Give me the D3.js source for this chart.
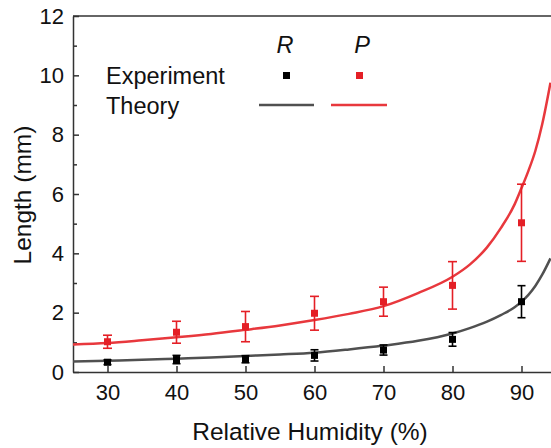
<!DOCTYPE html>
<html>
<head>
<meta charset="utf-8">
<script src="https://cdn.jsdelivr.net/npm/d3@7"></script>
<style>
  body { margin: 0; background: #fff; }
  svg { display: block; font-family: "Liberation Sans", Arial, sans-serif; }
</style>
</head>
<body>
<div id="chart"></div>
<script>
// Experimental points (relative humidity in %, length in mm)
const expRH = [30, 40, 50, 60, 70, 80, 90];
const expR = [0.33, 0.42, 0.43, 0.56, 0.74, 1.10, 2.37];
const expRErr = [0.08, 0.14, 0.12, 0.19, 0.17, 0.23, 0.54];
const expP = [1.02, 1.34, 1.53, 1.98, 2.37, 2.92, 5.03];
const expPErr = [0.22, 0.37, 0.51, 0.57, 0.49, 0.80, 1.30];

// Theory curves
const theoryRH = [25, 30, 35, 40, 45, 50, 55, 60, 65, 70, 75, 80, 82.5, 85, 87, 89, 90, 91, 92, 93, 94.2];
const theoryR = [0.35, 0.38, 0.41, 0.45, 0.49, 0.54, 0.59, 0.65, 0.76, 0.89, 1.05, 1.30, 1.48, 1.70, 1.92, 2.18, 2.37, 2.60, 2.90, 3.28, 3.83];
const theoryP = [0.93, 0.98, 1.07, 1.17, 1.28, 1.42, 1.57, 1.75, 1.96, 2.22, 2.66, 3.21, 3.62, 4.20, 4.85, 5.65, 6.20, 6.78, 7.45, 8.35, 9.75];

const xTicks = [30, 40, 50, 60, 70, 80, 90];
const yTicks = [0, 2, 4, 6, 8, 10, 12];
const yMinorTicks = [1, 3, 5, 7, 9, 11];

const width = 551;
const height = 448;
const axisColor = "#333";
const red = "#e41f26";
const redLine = "#e8383d";
const grayLine = "#505050";

const svg = d3.select("#chart")
    .append("svg")
    .attr("width", width)
    .attr("height", height);

const x = d3.scaleLinear().domain([25, 95]).range([73, 556]);
const y = d3.scaleLinear().domain([0, 12]).range([372, 16]);

// Axes (ticks point inward)
svg.append("g")
    .attr("transform", `translate(0,${y(0)})`)
    .call(d3.axisBottom(x).tickValues(xTicks).tickSizeInner(-6).tickSizeOuter(0).tickPadding(12));

svg.append("g")
    .attr("transform", `translate(${x(25)},0)`)
    .call(d3.axisLeft(y).tickValues(yTicks).tickSizeInner(-6).tickSizeOuter(0).tickPadding(9));

svg.append("g")
    .attr("transform", `translate(${x(25)},0)`)
    .call(d3.axisLeft(y).tickValues(yMinorTicks).tickSizeInner(-4).tickSizeOuter(0).tickFormat(""))
    .select(".domain").remove();

// top frame line
svg.append("line")
    .attr("x1", x(25)).attr("x2", x(95))
    .attr("y1", y(12)).attr("y2", y(12))
    .attr("stroke", axisColor).attr("stroke-width", 1.5);

svg.selectAll(".domain, .tick line")
    .attr("stroke", axisColor)
    .attr("stroke-width", 1.5);
svg.selectAll(".tick text")
    .attr("font-size", "22px")
    .attr("fill", "#111");

// Axis titles
svg.append("text")
    .attr("x", 310).attr("y", 440)
    .attr("text-anchor", "middle")
    .attr("font-size", "24.5px")
    .attr("fill", "#111")
    .text("Relative Humidity (%)");

svg.append("text")
    .attr("transform", "translate(31,195) rotate(-90)")
    .attr("text-anchor", "middle")
    .attr("font-size", "24.5px")
    .attr("fill", "#111")
    .text("Length (mm)");

// Theory curves
const line = d3.line()
    .x(d => x(d[0]))
    .y(d => y(d[1]))
    .curve(d3.curveMonotoneX);

svg.append("path")
    .datum(theoryRH.map((h, i) => [h, theoryR[i]]))
    .attr("d", line)
    .attr("fill", "none")
    .attr("stroke", grayLine)
    .attr("stroke-width", 2.5);

svg.append("path")
    .datum(theoryRH.map((h, i) => [h, theoryP[i]]))
    .attr("d", line)
    .attr("fill", "none")
    .attr("stroke", redLine)
    .attr("stroke-width", 2.5);

// Experimental points with error bars
function drawSeries(vals, errs, color, cap) {
    const data = expRH.map((h, i) => ({ h: h, v: vals[i], e: errs[i] }));
    const g = svg.append("g").attr("stroke", color).attr("stroke-width", 1.6);
    g.selectAll(".bar").data(data).enter().append("line")
        .attr("x1", d => x(d.h)).attr("x2", d => x(d.h))
        .attr("y1", d => y(d.v - d.e)).attr("y2", d => y(d.v + d.e));
    g.selectAll(".capTop").data(data).enter().append("line")
        .attr("x1", d => x(d.h) - cap / 2).attr("x2", d => x(d.h) + cap / 2)
        .attr("y1", d => y(d.v + d.e)).attr("y2", d => y(d.v + d.e));
    g.selectAll(".capBot").data(data).enter().append("line")
        .attr("x1", d => x(d.h) - cap / 2).attr("x2", d => x(d.h) + cap / 2)
        .attr("y1", d => y(d.v - d.e)).attr("y2", d => y(d.v - d.e));
    svg.append("g").selectAll("rect").data(data).enter().append("rect")
        .attr("x", d => x(d.h) - 3.5)
        .attr("y", d => y(d.v) - 3.5)
        .attr("width", 7).attr("height", 7)
        .attr("fill", color);
}
drawSeries(expR, expRErr, "#000", 8);
drawSeries(expP, expPErr, red, 9);

// Legend
const legend = svg.append("g").attr("font-size", "23.5px").attr("fill", "#111");
legend.append("text").attr("x", 106).attr("y", 84).text("Experiment");
legend.append("text").attr("x", 106).attr("y", 114).text("Theory");
legend.append("text").attr("x", 285).attr("y", 53).attr("text-anchor", "middle")
    .attr("font-style", "italic").text("R");
legend.append("text").attr("x", 362).attr("y", 53).attr("text-anchor", "middle")
    .attr("font-style", "italic").text("P");
legend.append("rect").attr("x", 283).attr("y", 72).attr("width", 7).attr("height", 7).attr("fill", "#000");
legend.append("rect").attr("x", 356).attr("y", 72).attr("width", 7).attr("height", 7).attr("fill", red);
legend.append("line").attr("x1", 259).attr("x2", 314).attr("y1", 105).attr("y2", 105)
    .attr("stroke", grayLine).attr("stroke-width", 2.5);
legend.append("line").attr("x1", 331).attr("x2", 387).attr("y1", 105).attr("y2", 105)
    .attr("stroke", redLine).attr("stroke-width", 2.5);
</script>
</body>
</html>
